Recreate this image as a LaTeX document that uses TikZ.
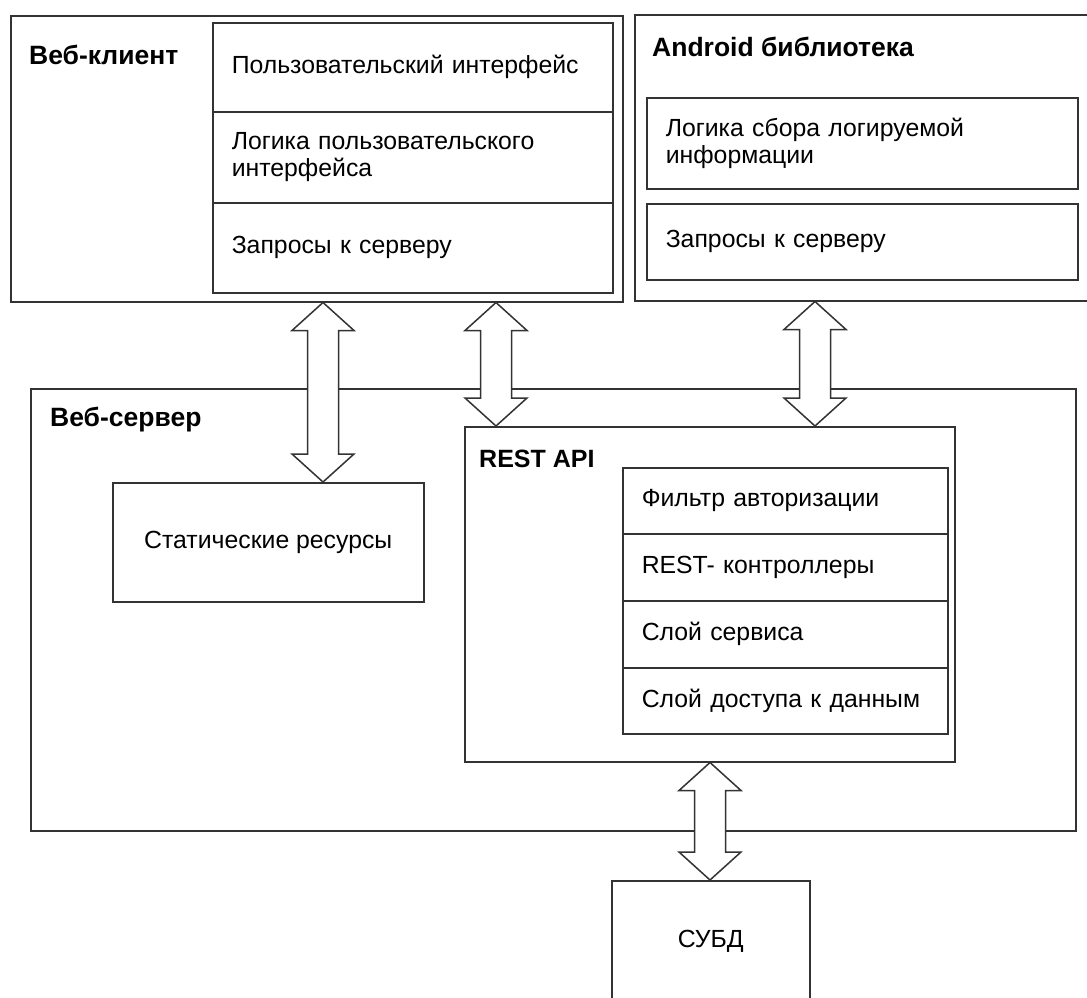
\documentclass[tikz,border=0pt]{standalone}
\usepackage{fontspec}
\setmainfont{Liberation Sans}
\usetikzlibrary{calc}

\tikzset{
  box/.style={draw=black!80, line width=1.5pt, rectangle, inner sep=0pt, anchor=north west},
  cell/.style={box, inner xsep=19pt, align=left, font=\fontsize{24.8}{27.5}\selectfont},
  plainbox/.style={box, align=center, font=\fontsize{24.8}{27.5}\selectfont},
  title/.style={anchor=west, inner sep=0pt, font=\fontsize{26.5}{29}\selectfont\bfseries},
  blockarrow/.style={draw=black!80, line width=1.5pt, fill=white, line join=miter},
}
% double block arrow between two points on one vertical line
\newcommand{\dblarrow}[2]{%
  \draw[blockarrow] let \p1=(#1), \p2=(#2) in
    (\x1,\y1) -- ++(31pt,-28pt) -- ++(-15.5pt,0pt) -- (\x1+15.5pt,\y2+28pt)
    -- ++(15.5pt,0pt) -- (\x2,\y2) -- ++(-31pt,28pt) -- ++(15.5pt,0pt)
    -- (\x1-15.5pt,\y1-28pt) -- ++(-15.5pt,0pt) -- cycle;}

\begin{document}
\begin{tikzpicture}[x=1pt, y=-1pt]
  \useasboundingbox (0,0) rectangle (1087,997);

  % Web client
  \node[box, minimum width=612pt, minimum height=286pt] (wc) at (10,15) {};
  \node[title] (wctitle) at (29,55) {Веб-клиент};
  \node[cell, text width=362pt, minimum height=89pt] (ui) at (212,22) {Пользовательский интерфейс};
  \node[cell, text width=362pt, minimum height=91pt] (uilogic) at (212,111) {Логика пользовательского\\интерфейса};
  \node[cell, text width=362pt, minimum height=90pt] (wcreq) at (212,202) {Запросы к серверу};

  % Android library
  \node[box, minimum width=460pt, minimum height=286pt] (an) at (634,14) {};
  \node[title] (antitle) at (652,47) {Android библиотека};
  \node[cell, text width=393pt, minimum height=91pt] (anlogic) at (646,97) {Логика сбора логируемой\\информации};
  \node[cell, text width=393pt, minimum height=76pt] (anreq) at (646,203) {Запросы к серверу};

  % Web server
  \node[box, minimum width=1045pt, minimum height=442pt] (ws) at (30,388) {};
  \node[title] (wstitle) at (50,420) {Веб-сервер};
  \node[plainbox, minimum width=311pt, minimum height=119pt] (stat) at (112,482) {Статические ресурсы};

  % REST API
  \node[box, minimum width=490pt, minimum height=335pt] (rest) at (464,426) {};
  \node[title, font=\fontsize{25}{28}\selectfont\bfseries] (resttitle) at (479,459) {REST API};
  \node[cell, text width=287pt, minimum height=66pt] (auth) at (622,467) {Фильтр авторизации};
  \node[cell, text width=287pt, minimum height=67pt] (ctrl) at (622,533) {REST- контроллеры};
  \node[cell, text width=287pt, minimum height=67pt] (serv) at (622,600) {Слой сервиса};
  \node[cell, text width=287pt, minimum height=66pt] (dao) at (622,667) {Слой доступа к данным};

  % DBMS
  \node[plainbox, minimum width=198pt, minimum height=122pt] (db) at (611,880) {СУБД};

  % arrows
  \coordinate (c1) at (323,0);
  \coordinate (c2) at (496,0);
  \coordinate (c3) at (815,0);
  \coordinate (c4) at (710,0);
  \dblarrow{wc.south -| c1}{stat.north -| c1}
  \dblarrow{wc.south -| c2}{rest.north -| c2}
  \dblarrow{an.south -| c3}{rest.north -| c3}
  \dblarrow{rest.south -| c4}{db.north -| c4}
\end{tikzpicture}
\end{document}
